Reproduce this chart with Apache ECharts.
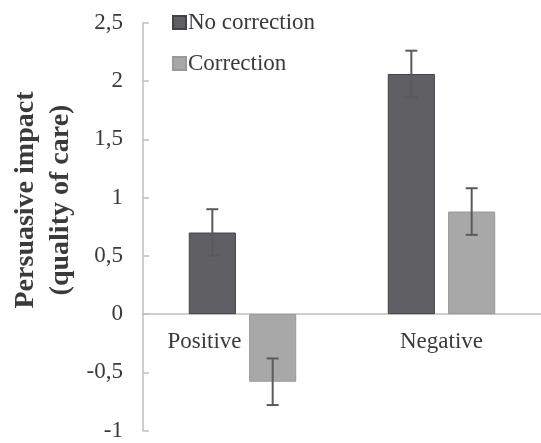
<!DOCTYPE html>
<html>
<head>
<meta charset="utf-8">
<script src="https://cdn.jsdelivr.net/npm/echarts@6/dist/echarts.min.js"></script>
<style>html,body{margin:0;padding:0;background:#fff}#c{width:541px;height:443px}</style>
</head>
<body>
<div id="c"></div>
<script>
var categories = ['Positive', 'Negative'];
var seriesNames = ['No correction', 'Correction'];
var noCorrection = [0.70, 2.06];
var correction = [-0.58, 0.88];
var errNoCorrection = [0.20, 0.20];
var errCorrection = [0.20, 0.20];
var yTicks = [-1, -0.5, 0, 0.5, 1, 1.5, 2, 2.5];

var FONT = '"Liberation Serif", "Times New Roman", serif';
var BAR_GAP = 0.28, CAT_GAP = 0.46;
var colors = ['#606064', '#a8a8a8'];
var borders = ['#434345', '#999999'];

var GRID_TOP = 22.7, GRID_BOTTOM = 12.3, H = 443;
var yMin = yTicks[0], yMax = yTicks[yTicks.length - 1];
var plotH = H - GRID_TOP - GRID_BOTTOM;
// distance from grid bottom up to value 0 (so the category axis sits on zero)
var zeroOffset = -plotH * (0 - yMin) / (yMax - yMin);

function errorSeries(idx, vals, errs) {
  return {
    type: 'custom',
    name: seriesNames[idx] + ' error',
    z: 10,
    silent: true,
    data: categories.map(function (c, i) { return [i, vals[i] - errs[i], vals[i] + errs[i]]; }),
    renderItem: function (params, api) {
      var ci = api.value(0);
      var lo = api.coord([ci, api.value(1)]);
      var hi = api.coord([ci, api.value(2)]);
      var bw = api.size([1, 0])[0];
      var usable = bw * (1 - CAT_GAP);
      var barW = usable / (2 + BAR_GAP);
      var x = lo[0] - usable / 2 + barW / 2 + idx * barW * (1 + BAR_GAP);
      var cap = 6;
      var st = { stroke: '#5a5a5a', lineWidth: 2 };
      return {
        type: 'group',
        children: [
          { type: 'line', shape: { x1: x, y1: lo[1], x2: x, y2: hi[1] }, style: st },
          { type: 'line', shape: { x1: x - cap, y1: lo[1], x2: x + cap, y2: lo[1] }, style: st },
          { type: 'line', shape: { x1: x - cap, y1: hi[1], x2: x + cap, y2: hi[1] }, style: st }
        ]
      };
    }
  };
}

var chart = echarts.init(document.getElementById('c'));
chart.setOption({
  animation: false,
  backgroundColor: '#ffffff',
  grid: { left: 143, right: 0, top: GRID_TOP, bottom: GRID_BOTTOM, containLabel: false, outerBoundsMode: 'none' },
  legend: {
    orient: 'vertical',
    left: 167,
    top: 6,
    icon: 'rect',
    itemWidth: 13,
    itemHeight: 13,
    itemGap: 18,
    data: seriesNames,
    textStyle: { fontFamily: FONT, fontSize: 23, color: '#3a3a3a', padding: [0, 0, 0, -3] }
  },
  graphic: [{
    type: 'text',
    x: 43,
    y: 200,
    rotation: Math.PI / 2,
    style: {
      text: 'Persuasive impact\n(quality of care)',
      font: 'bold 28px ' + FONT,
      fill: '#3a3a3a',
      textAlign: 'center',
      textVerticalAlign: 'middle',
      lineHeight: 35
    }
  }],
  xAxis: {
    type: 'category',
    data: categories,
    offset: zeroOffset,
    axisLine: { onZero: false, lineStyle: { color: '#bfbfbf', width: 1.5 } },
    axisTick: { show: false },
    axisLabel: {
      margin: 16,
      fontFamily: FONT,
      fontSize: 23,
      color: '#3a3a3a',
      formatter: function (v, i) { return i === 0 ? '{p|' + v + '}' : '{n|' + v + '}'; },
      rich: {
        p: { fontFamily: FONT, fontSize: 23, color: '#3a3a3a', padding: [0, 76, 0, 0] },
        n: { fontFamily: FONT, fontSize: 23, color: '#3a3a3a' }
      }
    },
    splitLine: { show: false }
  },
  yAxis: {
    type: 'value',
    min: yMin,
    max: yMax,
    interval: 0.5,
    axisLine: { show: true, lineStyle: { color: '#bfbfbf', width: 1.5 } },
    axisTick: { show: true, inside: true, length: 6, lineStyle: { color: '#bfbfbf', width: 1.5 } },
    splitLine: { show: false },
    axisLabel: {
      margin: 20,
      fontFamily: FONT,
      fontSize: 23,
      color: '#3a3a3a',
      formatter: function (v) { return String(v).replace('.', ','); }
    }
  },
  series: [
    {
      name: seriesNames[0], type: 'bar', data: noCorrection,
      barGap: (BAR_GAP * 100) + '%', barCategoryGap: (CAT_GAP * 100) + '%',
      itemStyle: { color: colors[0], borderColor: borders[0], borderWidth: 1 }
    },
    {
      name: seriesNames[1], type: 'bar', data: correction,
      barGap: (BAR_GAP * 100) + '%', barCategoryGap: (CAT_GAP * 100) + '%',
      itemStyle: { color: colors[1], borderColor: borders[1], borderWidth: 1 }
    },
    errorSeries(0, noCorrection, errNoCorrection),
    errorSeries(1, correction, errCorrection)
  ]
});
</script>
</body>
</html>
